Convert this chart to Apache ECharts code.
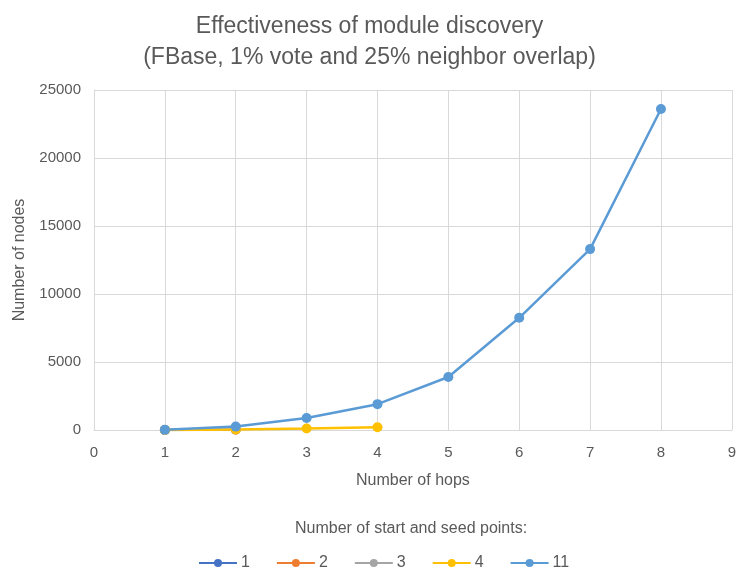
<!DOCTYPE html>
<html><head><meta charset="utf-8">
<script src="https://cdn.jsdelivr.net/npm/echarts@6/dist/echarts.min.js"></script>
<style>html,body{margin:0;padding:0;background:#fff}#c{width:739px;height:570px}</style>
</head><body><div id="c"></div>
<script>
const seriesNames = ['1', '2', '3', '4', '11'];
const colors = ['#4472C4', '#ED7D31', '#A5A5A5', '#FFC000', '#5B9BD5'];
const hops1 = [1];
const vals1 = [1];
const hops2 = [1, 2];
const vals2 = [2, 20];
const hops3 = [1, 2];
const vals3 = [3, 40];
const hops4 = [1, 2, 3, 4];
const vals4 = [4, 40, 110, 200];
const hops11 = [1, 2, 3, 4, 5, 6, 7, 8];
const vals11 = [11, 250, 880, 1900, 3900, 8250, 13300, 23600];
const xTicks = [0, 1, 2, 3, 4, 5, 6, 7, 8, 9];
const yTicks = [0, 5000, 10000, 15000, 20000, 25000];

const allHops = [hops1, hops2, hops3, hops4, hops11];
const allVals = [vals1, vals2, vals3, vals4, vals11];
const font = 'Liberation Sans';
const grey = '#595959';
const chart = echarts.init(document.getElementById('c'));
chart.setOption({
  animation: false,
  textStyle: { fontFamily: font },
  title: [{
    text: 'Effectiveness of module discovery\n(FBase, 1% vote and 25% neighbor overlap)',
    left: 'center', top: 6,
    textStyle: { fontSize: 23, fontWeight: 'normal', color: grey, lineHeight: 31, fontFamily: font }
  }, {
    text: 'Number of start and seed points:',
    left: 290, top: 516,
    textStyle: { fontSize: 16, fontWeight: 'normal', color: grey, fontFamily: font }
  }],
  legend: {
    top: 550, left: 193, itemWidth: 38, itemHeight: 10, itemGap: 26,
    textStyle: { color: grey, fontSize: 16, padding: [0, 0, 0, -1] },
    data: seriesNames
  },
  grid: { left: 94, right: 5, top: 90, bottom: 140 },
  xAxis: {
    type: 'value', min: 0, max: 9, interval: 1,
    name: 'Number of hops', nameLocation: 'middle', nameGap: 43,
    nameTextStyle: { color: grey, fontSize: 16 },
    axisLine: { show: true, lineStyle: { color: '#d9d9d9' } },
    axisTick: { show: false },
    axisLabel: { color: grey, fontSize: 15, margin: 15, formatter: v => xTicks.includes(v) ? String(v) : '' },
    splitLine: { show: true, lineStyle: { color: '#d9d9d9' } }
  },
  yAxis: {
    type: 'value', min: 0, max: 25000, interval: 5000,
    name: 'Number of nodes', nameLocation: 'middle', nameGap: 66, nameRotate: 90,
    nameTextStyle: { color: grey, fontSize: 16 },
    axisLine: { show: true, lineStyle: { color: '#d9d9d9' } },
    axisTick: { show: false },
    axisLabel: { color: grey, fontSize: 15, margin: 13, formatter: v => yTicks.includes(v) ? String(v) : '' },
    splitLine: { show: true, lineStyle: { color: '#d9d9d9' } }
  },
  series: seriesNames.map((n, i) => ({
    name: n, type: 'line',
    data: allHops[i].map((h, j) => [h, allVals[i][j]]),
    symbol: 'circle', symbolSize: 10,
    itemStyle: { color: colors[i] },
    lineStyle: { color: colors[i], width: 2.5 }
  }))
});
</script></body></html>
